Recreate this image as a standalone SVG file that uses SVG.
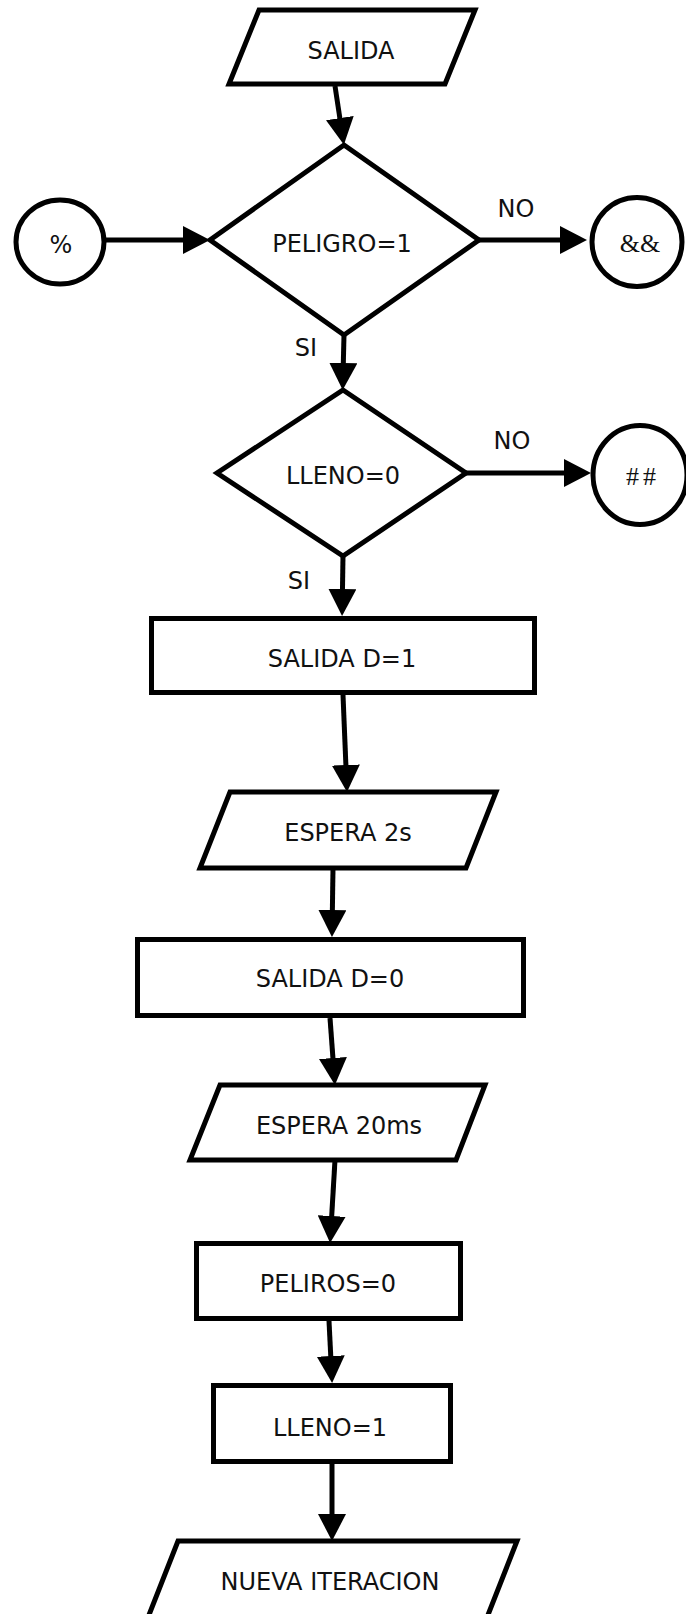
<svg xmlns="http://www.w3.org/2000/svg" width="686" height="1614" viewBox="0 0 686 1614">
<style>
.s{fill:#fff;stroke:#000;stroke-width:5;stroke-linejoin:miter}
.t{font-family:"DejaVu Sans","Liberation Sans",sans-serif;font-size:24px;fill:#111;text-anchor:middle}
.sym{font-family:"Liberation Serif","Times New Roman",serif;font-size:26px;fill:#111;text-anchor:middle}
.c{fill:none;stroke:#000;stroke-width:5}
</style>
<defs>
<marker id="ah" markerUnits="userSpaceOnUse" markerWidth="28" markerHeight="28" refX="5" refY="14" orient="auto">
<path d="M0,0 L27,14 L0,28 z" fill="#000"/>
</marker>
</defs>
<rect width="686" height="1614" fill="#fff"/>
<g id="connectors">
<path class="c" d="M335,86 L340.6,123" marker-end="url(#ah)"/>
<path class="c" d="M104,240 L188,240" marker-end="url(#ah)"/>
<path class="c" d="M479,240 L565,240" marker-end="url(#ah)"/>
<path class="c" d="M344,335 L343.2,368" marker-end="url(#ah)"/>
<path class="c" d="M466,473 L569,473" marker-end="url(#ah)"/>
<path class="c" d="M343,556 L342.4,594" marker-end="url(#ah)"/>
<path class="c" d="M343,695 L346.1,770" marker-end="url(#ah)"/>
<path class="c" d="M333,868 L332.3,915" marker-end="url(#ah)"/>
<path class="c" d="M330,1018 L333.3,1063" marker-end="url(#ah)"/>
<path class="c" d="M335,1160 L331.4,1221" marker-end="url(#ah)"/>
<path class="c" d="M329,1321 L331,1361" marker-end="url(#ah)"/>
<path class="c" d="M332,1464 L332,1519" marker-end="url(#ah)"/>
<text class="t" x="516" y="217">NO</text>
<text class="t" x="512" y="449">NO</text>
<text class="t" x="306" y="356">SI</text>
<text class="t" x="299" y="589">SI</text>
</g>
<g id="n_salida">
<polygon class="s" points="259,10 475,10 445,84 229,84"/>
<text class="t" x="351" y="59">SALIDA</text>
</g>
<g id="n_peligro">
<polygon class="s" points="344,145 479,240 344,335 210,240"/>
<text class="t" x="342" y="252">PELIGRO=1</text>
</g>
<g id="n_pct">
<ellipse class="s" cx="60" cy="242" rx="44" ry="42"/>
<text class="t" x="61" y="253">%</text>
</g>
<g id="n_amp">
<ellipse class="s" cx="637" cy="242" rx="45" ry="44.5"/>
<text class="sym" x="640" y="252">&amp;&amp;</text>
</g>
<g id="n_lleno0">
<polygon class="s" points="343,390 466,473 343,556 217,473"/>
<text class="t" x="343" y="484">LLENO=0</text>
</g>
<g id="n_hash">
<ellipse class="s" cx="640" cy="475" rx="47" ry="49.5"/>
<text class="sym" x="643" y="485" letter-spacing="4">##</text>
</g>
<g id="n_salidad1">
<rect class="s" x="151.5" y="618.5" width="383" height="74"/>
<text class="t" x="342" y="667">SALIDA D=1</text>
</g>
<g id="n_espera2">
<polygon class="s" points="230,792 496,792 466,868 200,868"/>
<text class="t" x="348" y="841">ESPERA 2s</text>
</g>
<g id="n_salidad0">
<rect class="s" x="137.5" y="939.5" width="386" height="76"/>
<text class="t" x="330" y="987">SALIDA D=0</text>
</g>
<g id="n_espera20">
<polygon class="s" points="220,1085 485,1085 456,1160 190,1160"/>
<text class="t" x="339" y="1134">ESPERA 20ms</text>
</g>
<g id="n_peliros">
<rect class="s" x="196.5" y="1243.5" width="264" height="75"/>
<text class="t" x="328" y="1292">PELIROS=0</text>
</g>
<g id="n_lleno1">
<rect class="s" x="213.5" y="1385.5" width="237" height="76"/>
<text class="t" x="330" y="1436">LLENO=1</text>
</g>
<g id="n_nueva">
<polygon class="s" points="178,1541 517,1541 486,1620 147,1620"/>
<text class="t" x="330" y="1590">NUEVA ITERACION</text>
</g>
</svg>
